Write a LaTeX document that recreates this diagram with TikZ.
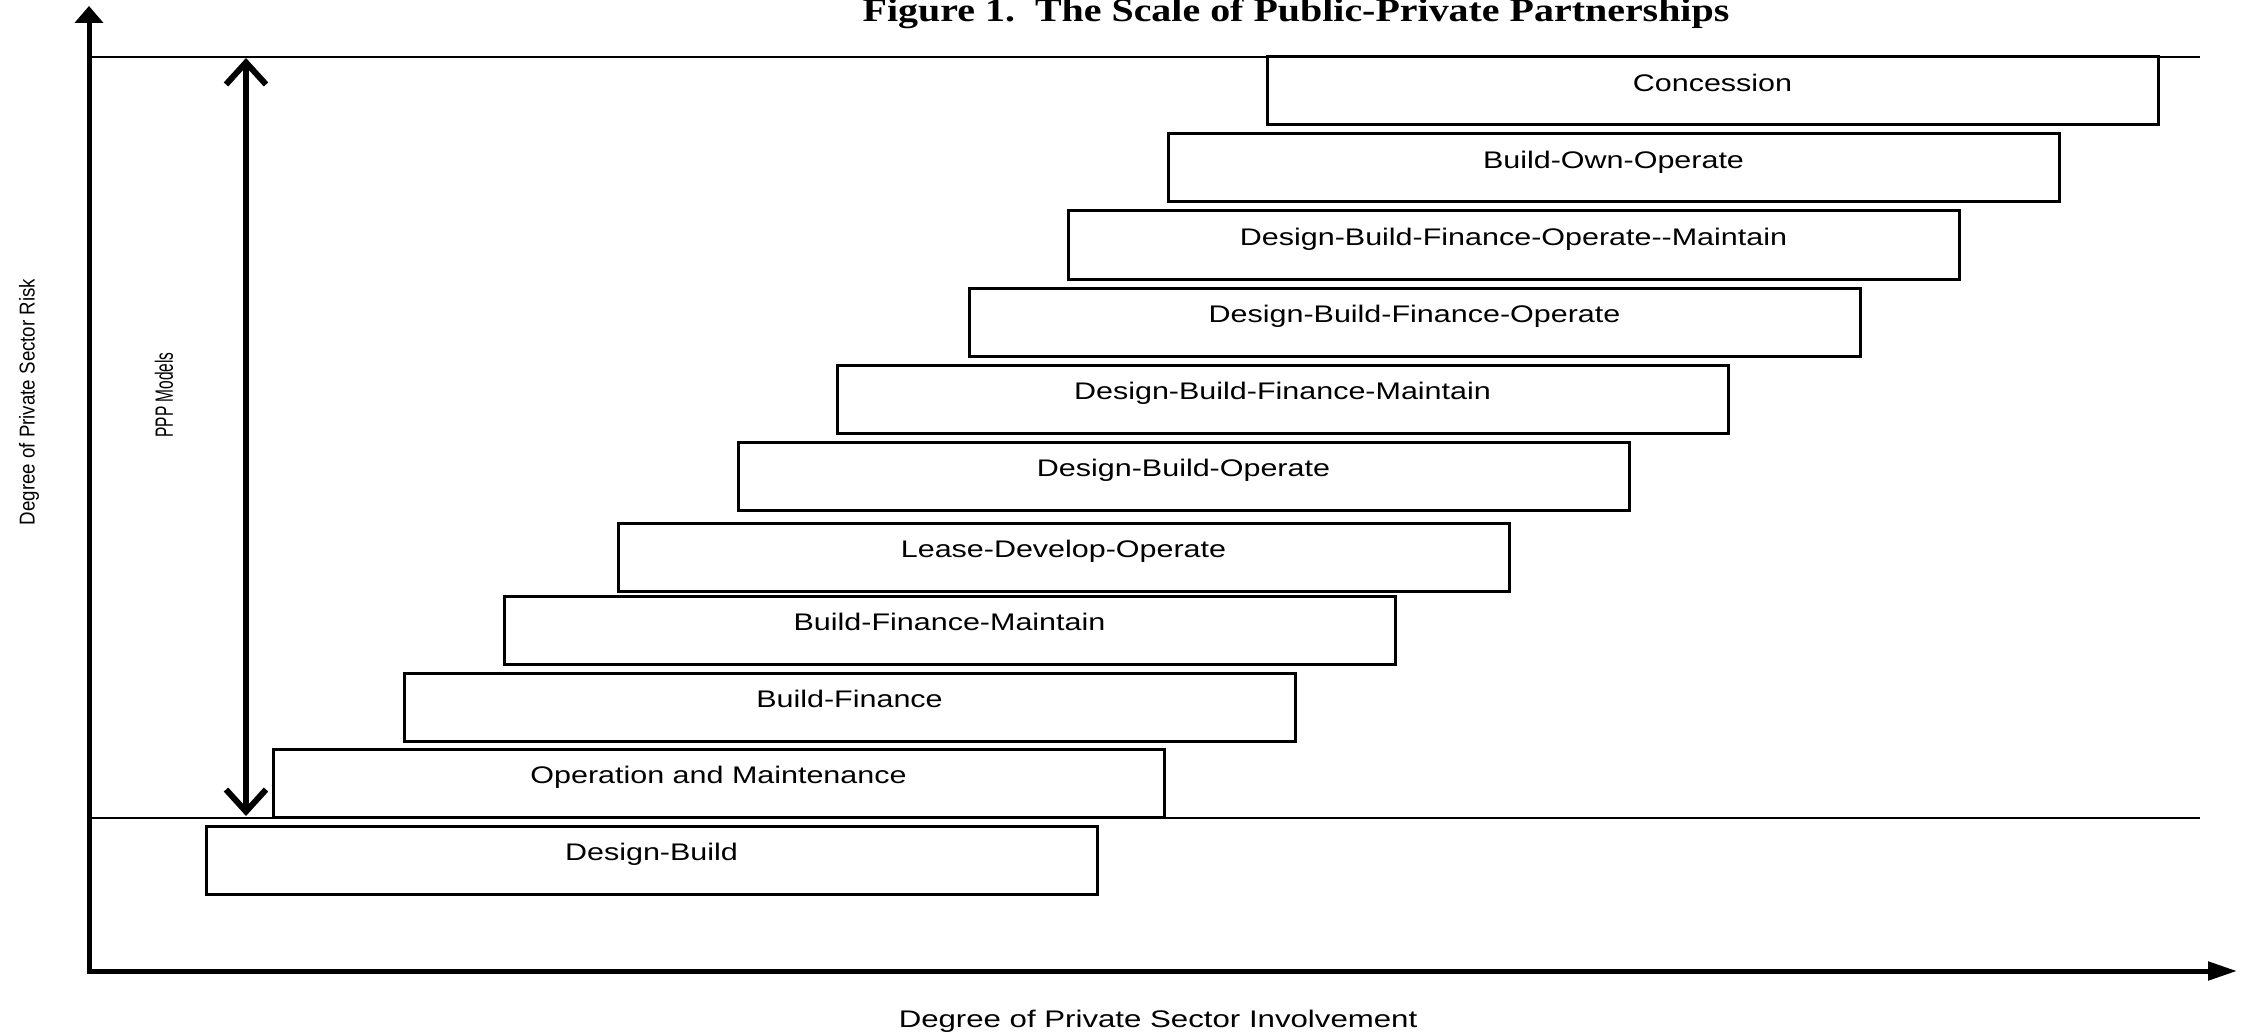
\documentclass[tikz,border=0pt]{standalone}
\usepackage{fontspec}
\setmainfont{Liberation Sans}
\newfontfamily\serifb{Liberation Serif}
\usetikzlibrary{arrows.meta}
\newcommand\hs[1]{\scalebox{1.27}[1]{#1}}
\begin{document}
\begin{tikzpicture}[x=1pt,y=-1pt,
  pbox/.style={draw, line width=3pt, inner xsep=0pt, inner ysep=0pt, outer sep=0pt,
    minimum width=891pt, text height=34.5pt, text depth=33.5pt, anchor=north west,
    font=\fontsize{24}{28}\selectfont},
  axisline/.style={line width=5pt, line join=miter},
  rule/.style={line width=2.5pt},
  rangearrow/.style={line width=6pt, {Straight Barb[length=22pt,width=40pt]}-{Straight Barb[length=22pt,width=40pt]}},
  vlabel/.style={rotate=90, font=\fontsize{21.5}{26}\selectfont},
  hlabel/.style={anchor=base, font=\fontsize{24}{28}\selectfont}
]
\useasboundingbox (0,0) rectangle (2242,1032);

% title
\node[anchor=base, font=\serifb\bfseries\fontsize{33}{38}\selectfont] (title) at (1296,22)
  {\scalebox{1.21}[1]{Figure 1.\ \ The Scale of Public-Private Partnerships}};

% horizontal rules
\coordinate (tl) at (89,57);  \coordinate (tr) at (2200,57);
\coordinate (ll) at (89,818); \coordinate (lr) at (2200,818);
\draw[rule] (tl) -- (tr);
\draw[rule] (ll) -- (lr);

% boxes
\node[pbox] (conc)  at (1267,57)  {\hs{Concession}};
\node[pbox] (boo)   at (1168,134) {\hs{Build-Own-Operate}};
\node[pbox] (dbfom) at (1068,211) {\hs{Design-Build-Finance-Operate-{}-Maintain}};
\node[pbox] (dbfo)  at (969,288)  {\hs{Design-Build-Finance-Operate}};
\node[pbox] (dbfm)  at (837,365)  {\hs{Design-Build-Finance-Maintain}};
\node[pbox] (dbo)   at (738,442)  {\hs{Design-Build-Operate}};
\node[pbox] (ldo)   at (618,523)  {\hs{Lease-Develop-Operate}};
\node[pbox] (bfm)   at (504,596)  {\hs{Build-Finance-Maintain}};
\node[pbox] (bf)    at (404,673)  {\hs{Build-Finance}};
\node[pbox] (om)    at (273,749)  {\hs{Operation and Maintenance}};
\node[pbox] (db)    at (206,826)  {\hs{Design-Build}};

% axes
\coordinate (O) at (89,971);
\coordinate (ytip) at (89,6);
\coordinate (xtip) at (2237,971);
\draw[axisline, {Triangle[length=17pt,width=28pt]}-{Triangle[length=29pt,width=18pt]}] (ytip) -- (O) -- (xtip);

% PPP range arrow
\coordinate (pa) at (246,58);
\coordinate (pb) at (246,816);
\draw[rangearrow] (pa) -- (pb);

% labels
\node[vlabel] (ylab) at (29,402) {\scalebox{0.87}[1]{Degree of Private Sector Risk}};
\node[vlabel, font=\fontsize{25}{30}\selectfont] (ppp) at (164,395) {\scalebox{0.62}[1]{PPP Models}};
\node[hlabel] (xlab) at (1158,1027) {\scalebox{1.30}[1]{Degree of Private Sector Involvement}};
\end{tikzpicture}
\end{document}
